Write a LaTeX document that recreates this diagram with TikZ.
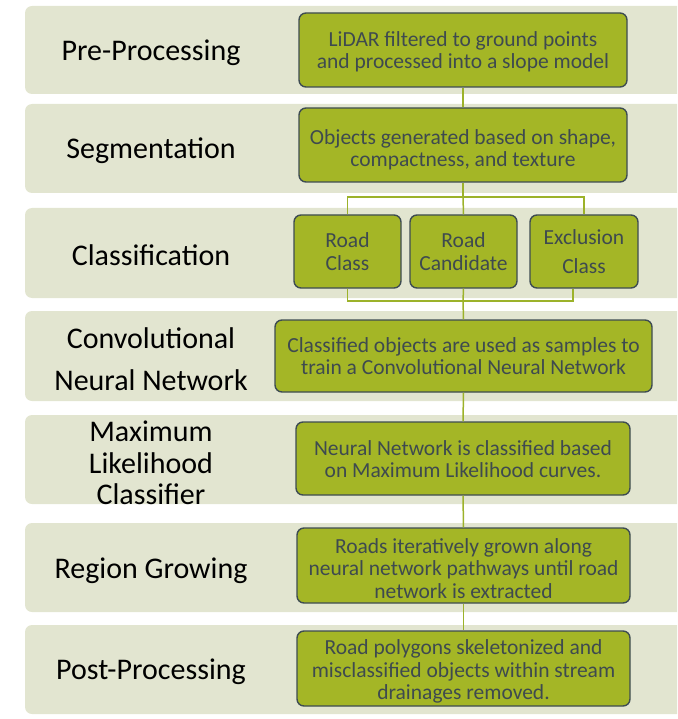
\documentclass[tikz,border=0pt]{standalone}
\usepackage{fontspec}
\setmainfont{Carlito}
\definecolor{bandc}{HTML}{E2E5D0}
\definecolor{boxfill}{HTML}{A4B626}
\definecolor{boxline}{HTML}{3E4C52}
\definecolor{boxtext}{HTML}{3E4A4F}
\definecolor{connc}{HTML}{9CB22A}
\begin{document}
\begin{tikzpicture}[x=1pt,y=-1pt,
  bandbox/.style={fill=bandc, rounded corners=7pt},
  stepbox/.style={draw=boxline, line width=1.4pt, fill=boxfill, rounded corners=7pt, inner sep=0pt},
  boxtxt/.style={text=boxtext, font=\fontsize{21.5}{22.5}\selectfont, align=center, inner sep=0pt},
  lbl/.style={font=\fontsize{30}{32}\selectfont, align=center, text=black},
  conn/.style={draw=connc, line width=1.5pt}]
\useasboundingbox (0,0) rectangle (677,719);
\clip (0,0) rectangle (677,719);
% bands
\foreach \t/\b in {6/94, 104/193, 208/298, 311/401, 415/504, 523/612, 625/714}
  \fill[bandbox] (25,\t) rectangle (700,\b);
% labels
\node[lbl] (l1) at (151,53) {Pre-Processing};
\node[lbl] (l2) at (151,151) {Segmentation};
\node[lbl] (l3) at (151,255) {Classification};
\node[lbl, font=\fontsize{30}{42}\selectfont] (l4) at (151,359) {Convolutional\\Neural Network};
\node[lbl, font=\fontsize{30}{31.5}\selectfont] (l5) at (151,463) {Maximum\\Likelihood\\Classifier};
\node[lbl] (l6) at (151,571) {Region Growing};
\node[lbl] (l7) at (151,672) {Post-Processing};
% boxes
\node[stepbox, minimum width=328pt, minimum height=74pt] (b1) at (463,50) {};
\node[boxtxt] (t1) at ([yshift=-2pt]b1.center)
  {LiDAR filtered to ground points\\and processed into a slope model};
\node[stepbox, minimum width=328pt, minimum height=74pt] (b2) at (463,145) {};
\node[boxtxt] (t2) at ([yshift=-5pt]b2.center)
  {Objects generated based on shape,\\compactness, and texture};
\node[stepbox, minimum width=107pt, minimum height=73pt] (c1) at (347.5,251.5) {};
\node[boxtxt] (tc1) at (c1.center) {Road\\Class};
\node[stepbox, minimum width=107pt, minimum height=73pt] (c2) at (463.5,251.5) {};
\node[boxtxt] (tc2) at (c2.center) {Road\\Candidate};
\node[stepbox, minimum width=108pt, minimum height=73pt] (c3) at (584,251.5) {};
\node[boxtxt] (tc3) at (c3.center) {Exclusion\\[7pt]Class};
\node[stepbox, minimum width=377pt, minimum height=72pt] (b4) at (463.5,356) {};
\node[boxtxt] (t4) at (b4.center)
  {Classified objects are used as samples to\\train a Convolutional Neural Network};
\node[stepbox, minimum width=334pt, minimum height=73pt] (b5) at (463,458.5) {};
\node[boxtxt] (t5) at ([yshift=-0.5pt]b5.center)
  {Neural Network is classified based\\on Maximum Likelihood curves.};
\node[stepbox, minimum width=333pt, minimum height=75pt] (b6) at (463.5,565.5) {};
\node[boxtxt] (t6) at ([yshift=-3pt]b6.center)
  {Roads iteratively grown along\\neural network pathways until road\\network is extracted};
\node[stepbox, minimum width=333pt, minimum height=75pt] (b7) at (463.5,668.5) {};
\node[boxtxt] (t7) at ([yshift=-3pt]b7.center)
  {Road polygons skeletonized and\\misclassified objects within stream\\drainages removed.};
% connectors
\coordinate (jt) at (463,197);
\coordinate (jb) at (463,301);
\draw[conn] (b1.south) -- (b2.north);
\draw[conn] (b2.south) -- (jt);
\draw[conn] (c1.north) |- (jt) -| (c3.north);
\draw[conn] (jt) -- (c2.north);
\draw[conn] (c1.south) |- (jb) -| ([xshift=-11pt]c3.south);
\draw[conn] (c2.south) -- (jb) -- (b4.north);
\draw[conn] (b4.south) -- (b5.north);
\draw[conn] (b5.south) -- (b6.north);
\draw[conn] (b6.south) -- (b7.north);
\end{tikzpicture}
\end{document}
